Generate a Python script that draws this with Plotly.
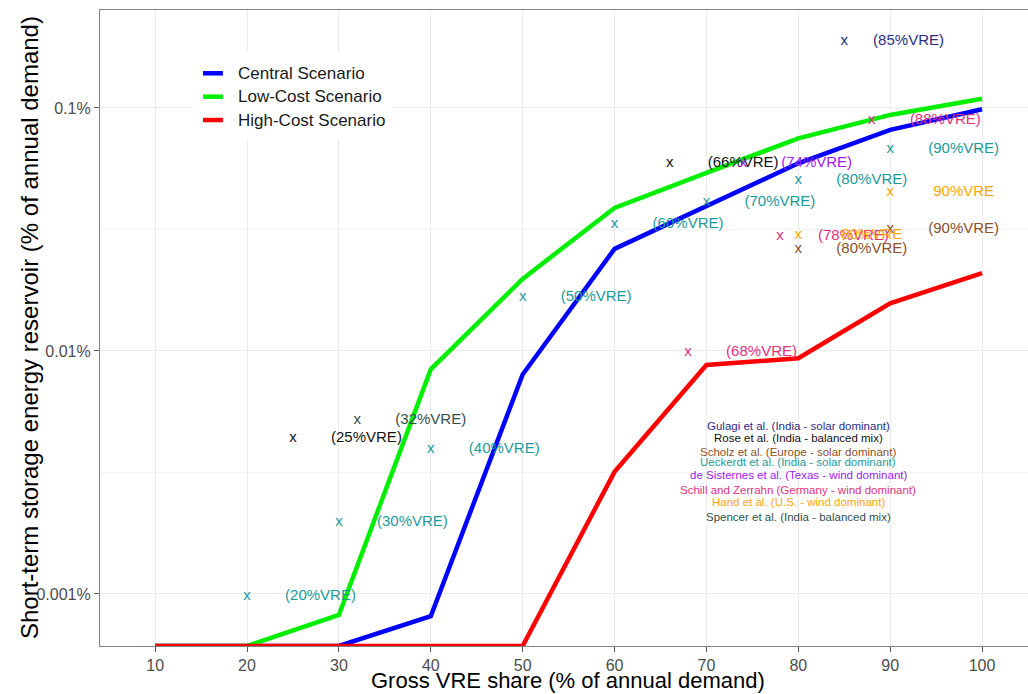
import plotly.graph_objects as go
import numpy as np

# ---------------- data ----------------
vre_share = [10, 20, 30, 40, 50, 60, 70, 80, 90, 100]
central = [0, 0, 0, 0.00081, 0.0080, 0.0263, 0.0393, 0.0592, 0.0812, 0.0988]
low_cost = [0, 0, 0.00082, 0.0084, 0.0198, 0.0388, 0.054, 0.075, 0.0936, 0.109]
high_cost = [0, 0, 0, 0, 0, 0.00318, 0.00876, 0.00933, 0.0157, 0.0209]

scenario_names = ["Central Scenario", "Low-Cost Scenario", "High-Cost Scenario"]

gulagi_x = [85]
gulagi_y = [0.189]
gulagi_lbl = ["(85%VRE)"]

rose_x = [25, 66]
rose_y = [0.00438, 0.0592]
rose_lbl = ["(25%VRE)", "(66%VRE)"]

scholz_x = [80, 90]
scholz_y = [0.0262, 0.0317]
scholz_lbl = ["(80%VRE)", "(90%VRE)"]

ueckerdt_x = [20, 30, 40, 50, 60, 70, 80, 90]
ueckerdt_y = [0.00098, 0.00197, 0.00394, 0.0167, 0.0333, 0.0408, 0.0502, 0.0676]
ueckerdt_lbl = ["(20%VRE)", "(30%VRE)", "(40%VRE)", "(50%VRE)", "(60%VRE)",
                "(70%VRE)", "(80%VRE)", "(90%VRE)"]

sisternes_x = [74]
sisternes_y = [0.0592]
sisternes_lbl = ["(74%VRE)"]

schill_x = [68, 78, 88]
schill_y = [0.00984, 0.0296, 0.0887]
schill_lbl = ["(68%VRE)", "(78%VRE)", "(88%VRE)"]

hand_x = [80, 90]
hand_y = [0.0300, 0.0450]
hand_lbl = ["80%VRE", "90%VRE"]

spencer_x = [32]
spencer_y = [0.0052]
spencer_lbl = ["(32%VRE)"]

study_names = [
    "Gulagi et al. (India - solar dominant)",
    "Rose et al. (India - balanced mix)",
    "Scholz et al. (Europe - solar dominant)",
    "Ueckerdt et al. (India - solar dominant)",
    "de Sisternes et al. (Texas - wind dominant)",
    "Schill and Zerrahn (Germany - wind dominant)",
    "Hand et al. (U.S. - wind dominant)",
    "Spencer et al. (India - balanced mix)",
]

# ---------------- styles ----------------
scenario_colors = ["#0000ff", "#00ee00", "#ff0000"]
study_colors = ["#2c2c86", "#111111", "#8c4f2a", "#1c9a9a",
                "#a020f0", "#e0307f", "#ffa500", "#2f4f4f"]
label_offsets = [7, 8, 8, 8, 8, 8, 8, 8]   # x-offset of the %VRE label (axis units)
FONT = "Liberation Sans, Arial, sans-serif"

Y_LOG_RANGE = [-3.214, -0.597]
X_RANGE = [4.0, 105.0]
floor_val = 10 ** Y_LOG_RANGE[0]


def squish(vals):
    # zero values drawn at the lower edge of the panel (as -Inf in a log scale)
    return [v if v > 0 else floor_val for v in vals]


fig = go.Figure()

for name, vals, col in zip(scenario_names, [central, low_cost, high_cost], scenario_colors):
    fig.add_trace(go.Scatter(x=vre_share, y=squish(vals), mode="lines", name=name,
                             line=dict(color=col, width=4.5), hoverinfo="skip",
                             showlegend=False))

study_pts = [
    (gulagi_x, gulagi_y, gulagi_lbl),
    (rose_x, rose_y, rose_lbl),
    (scholz_x, scholz_y, scholz_lbl),
    (ueckerdt_x, ueckerdt_y, ueckerdt_lbl),
    (sisternes_x, sisternes_y, sisternes_lbl),
    (schill_x, schill_y, schill_lbl),
    (hand_x, hand_y, hand_lbl),
    (spencer_x, spencer_y, spencer_lbl),
]

for (xs, ys, lbls), col, dx, nm in zip(study_pts, study_colors, label_offsets, study_names):
    fig.add_trace(go.Scatter(x=xs, y=ys, mode="text", text=["x"] * len(xs),
                             textposition="middle center",
                             textfont=dict(size=15, color=col, family=FONT),
                             name=nm, showlegend=False, hoverinfo="skip", cliponaxis=False))
    fig.add_trace(go.Scatter(x=[v + dx for v in xs], y=ys, mode="text", text=lbls,
                             textposition="middle center",
                             textfont=dict(size=15, color=col, family=FONT),
                             showlegend=False, hoverinfo="skip", cliponaxis=False))

# ---------------- layout ----------------
fig.update_layout(
    width=1028, height=694,
    margin=dict(l=100, r=0, t=10, b=48),
    plot_bgcolor="white", paper_bgcolor="white",
    font=dict(family=FONT, color="#000000"),
    showlegend=False,
)

fig.update_xaxes(
    range=X_RANGE, tickmode="array", tickvals=vre_share,
    ticks="outside", ticklen=5, tickcolor="#555555", tickwidth=1,
    tickfont=dict(size=16, color="#4d4d4d", family=FONT),
    showline=True, linecolor="#808080", linewidth=1.2, mirror=True,
    showgrid=True, gridcolor="#ebebeb", gridwidth=1.2, zeroline=False,
)

fig.update_yaxes(
    type="log", range=Y_LOG_RANGE, tickmode="array",
    tickvals=[0.001, 0.01, 0.1], ticktext=["0.001%", "0.01%", "0.1%"],
    ticks="outside", ticklen=5, tickcolor="#555555", tickwidth=1,
    tickfont=dict(size=16, color="#4d4d4d", family=FONT),
    showline=True, linecolor="#808080", linewidth=1.2, mirror=False,
    showgrid=True, gridcolor="#ebebeb", gridwidth=1.2, zeroline=False,
    minor=dict(tickmode="array", tickvals=[10 ** -3.5, 10 ** -2.5, 10 ** -1.5],
               showgrid=True, gridcolor="#f3f3f3", gridwidth=1, ticks=""),
)

annotations = []
# axis titles
annotations.append(dict(text="Gross VRE share (% of annual demand)", xref="paper", yref="paper",
                        x=0.504, y=-0.0546, xanchor="center", yanchor="middle", showarrow=False,
                        font=dict(size=22, color="#000000", family=FONT)))
annotations.append(dict(text="Short-term storage energy reservoir (% of annual demand)",
                        xref="paper", yref="paper", x=-0.0765, y=0.5, textangle=-90,
                        xanchor="center", yanchor="middle", showarrow=False,
                        font=dict(size=24, color="#000000", family=FONT)))

# study list (text legend) centred on x = 80
study_rows_y = [0.3459, 0.3266, 0.3055, 0.2888, 0.2689, 0.2453, 0.2269, 0.2024]
for nm, col, yy in zip(study_names, study_colors, study_rows_y):
    annotations.append(dict(text=nm, xref="x", yref="paper", x=80, y=yy,
                            xanchor="center", yanchor="middle", showarrow=False,
                            font=dict(size=11.5, color=col, family=FONT)))

# scenario legend
shapes = [dict(type="rect", xref="paper", yref="paper", x0=0.1002, x1=0.3147, y0=0.797, y1=0.934,
               fillcolor="white", line=dict(width=0), layer="above")]
leg_rows = [0.9005, 0.8637, 0.8270]
for nm, col, yy in zip(scenario_names, scenario_colors, leg_rows):
    shapes.append(dict(type="line", xref="paper", yref="paper", x0=0.111, x1=0.1325, y0=yy, y1=yy,
                       line=dict(color=col, width=4.5), layer="above"))
    annotations.append(dict(text=nm, xref="paper", yref="paper", x=0.1466, y=yy,
                            xanchor="left", yanchor="middle", showarrow=False,
                            font=dict(size=17, color="#1a1a1a", family=FONT)))

fig.update_layout(annotations=annotations, shapes=shapes)

fig.write_html("out.html", config={"displayModeBar": False},
               post_script="document.body.style.margin='0px';")
